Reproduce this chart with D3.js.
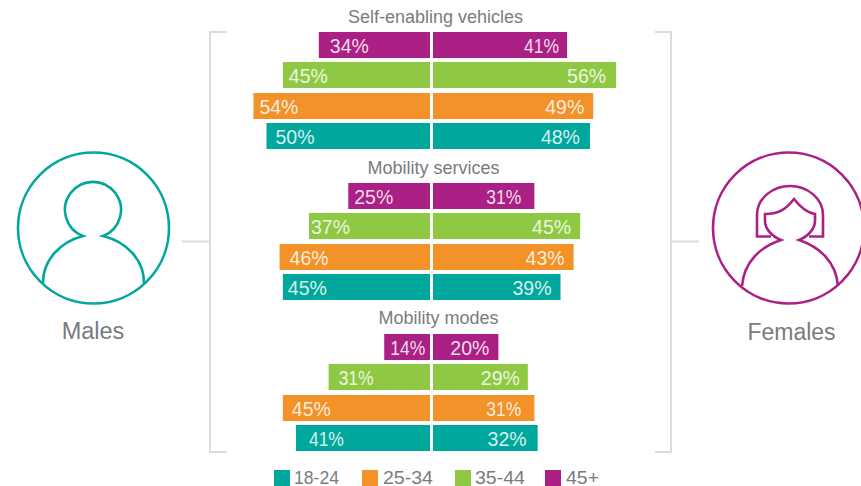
<!DOCTYPE html>
<html>
<head>
<meta charset="utf-8">
<script src="https://cdn.jsdelivr.net/npm/d3@7"></script>
<style>
html,body{margin:0;padding:0;background:#fff;overflow:hidden}
svg{display:block}
text{font-family:"Liberation Sans",Arimo,sans-serif;font-weight:400}
</style>
</head>
<body>
<svg id="chart" width="861" height="486"></svg>
<script>
const topics = ["Self-enabling vehicles", "Mobility services", "Mobility modes"];
const ageGroups = ["45+", "35-44", "25-34", "18-24"];
const legendOrder = ["18-24", "25-34", "35-44", "45+"];
const maleValues = [
  [34, 45, 54, 50],
  [25, 37, 46, 45],
  [14, 31, 45, 41]
];
const femaleValues = [
  [41, 56, 49, 48],
  [31, 45, 43, 39],
  [20, 29, 31, 32]
];
const ageColors = ["#ab2085", "#8fc943", "#f29229", "#00a79d"];

const svg = d3.select("#chart");
const textGrey = "#7a7b7e";
const ruleGrey = "#dcdcdc";

// Mirrored value scales either side of the central gap
const xMale = d3.scaleLinear().domain([0, 100]).range([430, 103]);
const xFemale = d3.scaleLinear().domain([0, 100]).range([433, 760]);
const yTopic = d3.scalePoint().domain(topics).range([32, 334]);
const yAge = d3.scaleBand().domain(ageGroups).range([0, 118]).paddingInner(0.152);
const color = d3.scaleOrdinal().domain(ageGroups).range(ageColors);

// Label inset from the outer end of each bar, per topic and age row
const maleInset = [[11, 6, 6, 9], [6, 2, 10, 5], [6, 10, 9, 13]];
const femaleInset = [[8, 10, 9, 10], [13, 9, 9, 9], [9, 8, 13, 11]];

function drawSide(values, x, anchor, insets, dir) {
  topics.forEach((topic, t) => {
    const g = svg.append("g").attr("transform", `translate(0,${yTopic(topic)})`);
    ageGroups.forEach((age, a) => {
      const v = values[t][a];
      const y = Math.floor(yAge(age));
      const label = String(v) + "%";
      g.append("rect")
        .attr("x", Math.min(x(0), x(v)))
        .attr("y", y)
        .attr("width", Math.abs(x(v) - x(0)))
        .attr("height", yAge.bandwidth())
        .attr("fill", color(age));
      const text = g.append("text")
        .attr("x", x(v) + dir * insets[t][a])
        .attr("y", y + 20.7)
        .attr("text-anchor", anchor)
        .attr("font-size", 19.5)
        .attr("fill", "#fff")
        .attr("fill-opacity", 0.85)
        .text(label);
      // A figure one sets tighter than the other digits
      if (label.includes("1")) {
        text.attr("textLength", 35).attr("lengthAdjust", "spacingAndGlyphs");
      }
    });
  });
}
drawSide(maleValues, xMale, "start", maleInset, 1);
drawSide(femaleValues, xFemale, "end", femaleInset, -1);

// Topic headings above each block
const headingX = [435.5, 433.5, 438.5];
const headingY = [23, 174, 324];
topics.forEach((topic, t) => {
  svg.append("text")
    .attr("x", headingX[t]).attr("y", headingY[t])
    .attr("text-anchor", "middle")
    .attr("font-size", 18)
    .attr("fill", textGrey)
    .text(topic);
});

// Brackets linking the icons to the bars
const rule = d3.path();
rule.moveTo(227, 32); rule.lineTo(210, 32); rule.lineTo(210, 452); rule.lineTo(227, 452);
rule.moveTo(182, 241.5); rule.lineTo(210, 241.5);
rule.moveTo(655, 32); rule.lineTo(671, 32); rule.lineTo(671, 452); rule.lineTo(655, 452);
rule.moveTo(671, 241.5); rule.lineTo(699, 241.5);
svg.append("path").attr("d", rule.toString())
  .attr("fill", "none").attr("stroke", ruleGrey).attr("stroke-width", 2);

// Male figure
const male = svg.append("g").attr("fill", "none").attr("stroke", "#00a79d").attr("stroke-width", 2.6);
male.append("circle").attr("cx", 93.5).attr("cy", 228).attr("r", 75.5);
male.append("path").attr("d",
  "M43,283 C43,260 60,242 83,236 A28,28 0 1 1 103,236 C127,242 144,260 144,283");
svg.append("text").attr("x", 93).attr("y", 339).attr("text-anchor", "middle")
  .attr("font-size", 23.5).attr("fill", textGrey).text("Males");

// Female figure
const female = svg.append("g").attr("fill", "none").attr("stroke", "#ab2085").attr("stroke-width", 2.6);
female.append("circle").attr("cx", 788.5).attr("cy", 228).attr("r", 75.5);
female.append("path").attr("d",
  "M742,286 C744,262 760,247 781,240 C771,236 765,228 765,221 L765,214 C780,214 787,208 794,199 " +
  "C801,208 808,213 815,214 L815,221 C815,228 809,236 799,240 C820,247 836,262 838,286");
female.append("path").attr("d",
  "M771,236.5 L757,236.5 L757,215 C757,198 773,186 790,186 C807,186 823,198 823,215 L823,236.5 L809,236.5");
svg.append("text").attr("x", 791.5).attr("y", 340).attr("text-anchor", "middle")
  .attr("font-size", 23).attr("fill", textGrey).text("Females");

// Legend along the bottom edge
const legendSwatchX = [274, 362, 455, 545];
const legendTextGap = [20, 21, 20, 21];
const legendTextWidth = [45, 50, 50, 33];
legendOrder.forEach((age, i) => {
  svg.append("rect").attr("x", legendSwatchX[i]).attr("y", 470)
    .attr("width", 16).attr("height", 16).attr("fill", color(age));
  svg.append("text").attr("x", legendSwatchX[i] + legendTextGap[i]).attr("y", 484)
    .attr("font-size", 18).attr("fill", textGrey)
    .attr("textLength", legendTextWidth[i]).attr("lengthAdjust", "spacingAndGlyphs")
    .text(age);
});
</script>
</body>
</html>
